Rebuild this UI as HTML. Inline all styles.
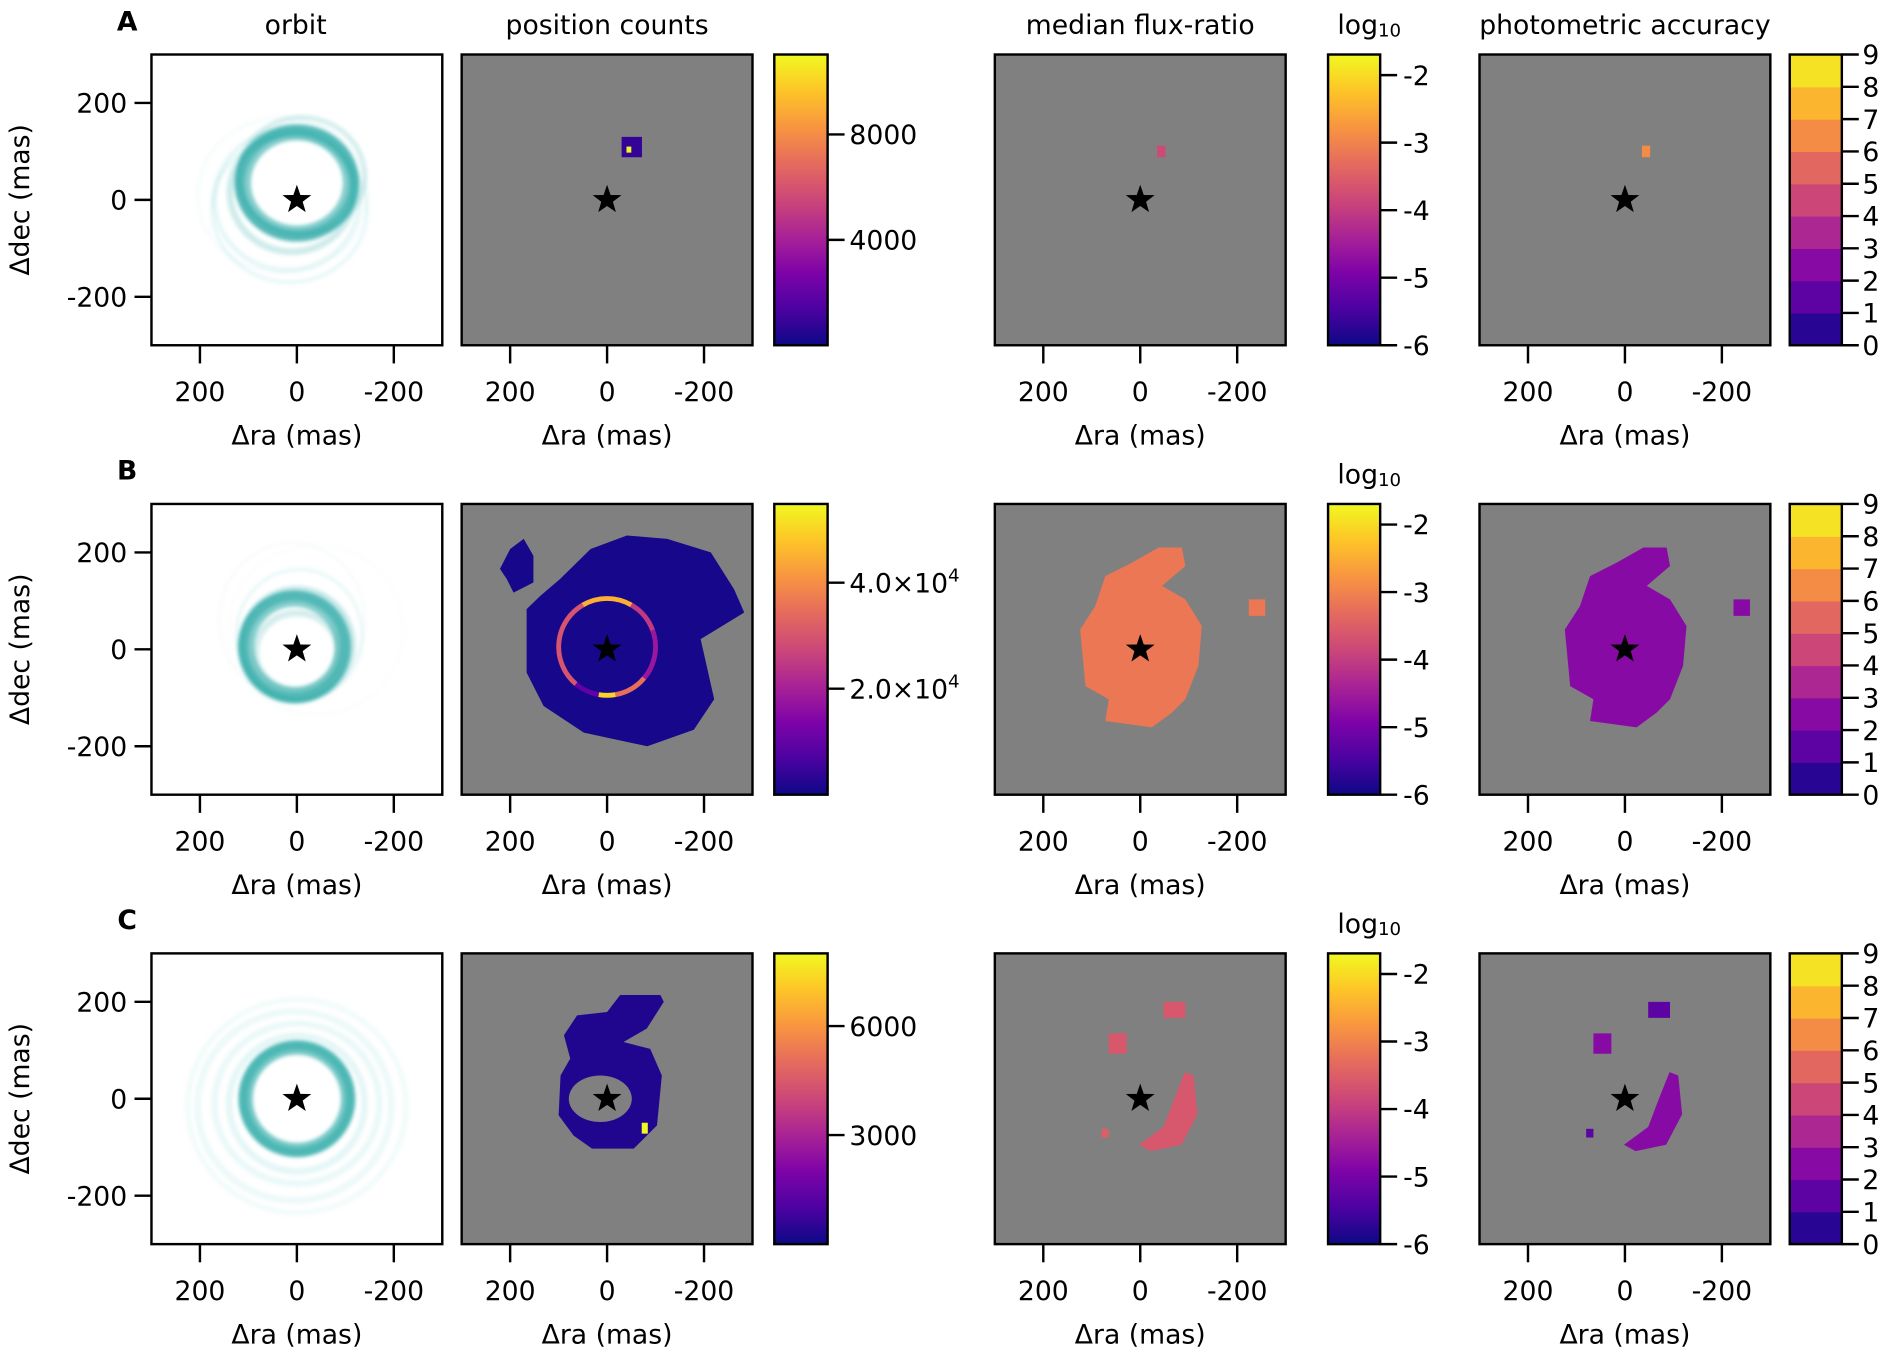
<!DOCTYPE html>
<html><head><meta charset="utf-8"><style>
html,body{margin:0;padding:0;background:#fff;}
svg{display:block;font-family:"DejaVu Sans","Liberation Sans",sans-serif;}
</style></head><body>
<svg id="fig" width="1900" height="1358" viewBox="0 0 1568 1121" preserveAspectRatio="none" xmlns="http://www.w3.org/2000/svg"></svg>
<script>
// ---- data ----
var rowLetters = ['A','B','C'];
var colTitles = ['orbit','position counts','median flux-ratio','photometric accuracy'];
var axisTicks = [200, 0, -200];
var countsMax = [11034, 54857, 8000];
var countsTickVals = [[4000, 8000],[20000, 40000],[3000, 6000]];
var countsTickLabels = [['4000','8000'],['2.0×10^4','4.0×10^4'],['3000','6000']];
var fluxMin = -6, fluxMax = -1.695;
var fluxTicks = [-6,-5,-4,-3,-2];
var photBins = [0,1,2,3,4,5,6,7,8,9];
// orbit bundles per row: [cx, cy, rx, ry, strokeWidth(mas), opacity]
var orbitsA = [[0,35,112,105,34,0.55],[0,35,118,108,20,0.5],[10,15,128,122,14,0.22],[20,0,150,145,10,0.1],[15,-20,160,150,8,0.09],[30,10,175,160,4,0.06],[-10,50,130,120,10,0.2]];
var orbitsB = [[5,5,100,100,34,0.55],[5,5,105,105,20,0.5],[0,10,115,115,12,0.25],[-5,30,130,135,6,0.1],[10,60,150,160,3,0.05],[-40,40,180,175,2,0.04],[0,-5,85,80,14,0.2]];
var orbitsC = [[0,0,106,106,30,0.6],[0,0,110,110,18,0.5],[0,-10,140,140,14,0.1],[0,-10,170,165,14,0.08],[5,-15,200,195,14,0.07],[0,-15,225,220,10,0.06]];
// counts regions: polygons [ra,dec]
var countsA = [[[-30,130],[-72,130],[-72,88],[-30,88]]];
var countsAval = [800];
var countsBmain = [[166,83],[166,-48],[131,-117],[48,-172],[-83,-200],[-179,-166],[-221,-103],[-193,21],[-283,76],[-262,124],[-214,200],[-124,228],[-41,235],[34,207],[97,145],[138,110]];
var countsBsmall = [[221,166],[200,207],[172,228],[152,193],[152,138],[193,117],[207,145]];
var ringB = [0, 5, 100]; // cx, cy, r (mas)
var ringBarcs = [[0,360,10000],[120,230,30000],[60,120,45000],[20,60,25000],[-40,20,18000],[-80,-40,35000],[-100,-80,50000]];
var countsCouter = [[96,48],[100,-34],[69,-76],[31,-103],[-55,-103],[-103,-55],[-113,48],[-89,103],[-34,117],[-82,145],[-117,200],[-110,214],[-27,214],[0,179],[62,172],[89,131],[76,83]];
var countsChole = [14, 0, 65, 48];
var countsCspot = [-79, -62, 8000];
// flux regions
var fluxA = [[[-35,112],[-52,112],[-52,88],[-35,88]]];
var fluxAval = [-3.8];
var fluxBmain = [[124,41],[113,-76],[65,-103],[72,-148],[-24,-161],[-65,-131],[-93,-103],[-120,-34],[-127,48],[-93,103],[-45,131],[-93,172],[-86,210],[-38,210],[17,179],[72,151],[93,89]];
var fluxBsmall = [[-224,103],[-258,103],[-258,69],[-224,69]];
var fluxBval = -3.15;
var fluxC = [[[-48,200],[-93,200],[-93,167],[-48,167]],[[65,135],[28,135],[28,93],[65,93]],[[-110,48],[-118,-32],[-85,-95],[-22,-108],[2,-95],[-48,-58],[-72,5],[-92,55]],[[80,-62],[65,-62],[65,-80],[80,-80]]];
var fluxCval = [-3.6,-3.6,-3.6,-3.5];
var photAval = [6.5];
var photBval = 2.5;
var photCval = [1.5,2.5,2.8,1.5];

// ---- helpers ----
var svg = document.getElementById('fig');
var NS = 'http://www.w3.org/2000/svg';
function el(tag, attrs, parent){var e=document.createElementNS(NS,tag);for(var k in attrs)e.setAttribute(k,attrs[k]);(parent||svg).appendChild(e);return e;}
var plasmaStops=[[13,8,135],[76,2,161],[126,3,168],[169,35,149],[204,71,120],[229,107,93],[248,149,64],[253,197,39],[240,249,33]];
function plasma(t){t=Math.max(0,Math.min(1,t));var s=t*8,i=Math.min(7,Math.floor(s)),f=s-i;var a=plasmaStops[i],b=plasmaStops[i+1];return 'rgb('+Math.round(a[0]+(b[0]-a[0])*f)+','+Math.round(a[1]+(b[1]-a[1])*f)+','+Math.round(a[2]+(b[2]-a[2])*f)+')';}
var rowY=[45,416,787], colX=[125,381,821,1221], cbX=[639,1096,1477];
var PS=240, K=PS/600, FS=22;
function sx(x0,ra){return x0+PS/2-ra*K;}
function sy(y0,dec){return y0+PS/2-dec*K;}
function poly(g,x0,y0,pts,fill,name){var d=pts.map(function(p){return sx(x0,p[0]).toFixed(1)+','+sy(y0,p[1]).toFixed(1);}).join(' ');var p=el('polygon',{points:d,fill:fill},g);return p;}
function star(g,x0,y0){var cx=sx(x0,0),cy=sy(y0,0),R=12.5,r=5;var pts=[];for(var i=0;i<10;i++){var a=-Math.PI/2+i*Math.PI/5,rr=i%2?r:R;pts.push((cx+rr*Math.cos(a)).toFixed(1)+','+(cy+rr*Math.sin(a)).toFixed(1));}var s=el('polygon',{points:pts.join(' '),fill:'#000'},g);}
function text(x,y,str,size,anchor,name,extra){var t=el('text',{x:x,y:y,'font-size':size,'text-anchor':anchor||'middle',fill:'#000'});for(var k in (extra||{}))t.setAttribute(k,extra[k]);t.textContent=str;return t;}
function frame(g,x0,y0,bg){var r=el('rect',{x:x0,y:y0,width:PS,height:PS,fill:bg},g);}
function border(g,x0,y0,w,h){var r=el('rect',{x:x0,y:y0,width:w,height:h,fill:'none',stroke:'#000','stroke-width':2},g);}
function xaxis(x0,y0){axisTicks.forEach(function(v){var x=sx(x0,v);var l=el('line',{x1:x,x2:x,y1:y0+PS,y2:y0+PS+15,stroke:'#000','stroke-width':2});text(x,y0+PS+46,String(v),FS,'middle','x-tick-label');});text(x0+PS/2,y0+PS+82,'Δra (mas)',FS,'middle','x-axis-title');}
function yaxis(x0,y0){axisTicks.forEach(function(v){var y=sy(y0,v);var l=el('line',{x1:x0-14,x2:x0,y1:y,y2:y,stroke:'#000','stroke-width':2});text(x0-20,y+8,String(v),FS,'end','y-tick-label');});var t=text(0,0,'Δdec (mas)',FS,'middle','y-axis-title');t.setAttribute('transform','translate(24,'+(y0+PS/2)+') rotate(-90)');}
function group(name){var g=el('g',{});return g;}

var defs=el('defs',{});var lg=el('linearGradient',{id:'plasma',x1:0,y1:1,x2:0,y2:0},defs);
for(var i=0;i<=16;i++){el('stop',{offset:(i/16),'stop-color':plasma(i/16)},lg);}
var blur=el('filter',{id:'soft',x:'-20%',y:'-20%',width:'140%',height:'140%'},defs);el('feGaussianBlur',{stdDeviation:1.5},blur);
var clipId=0;
function clip(x0,y0){var id='c'+(clipId++);var c=el('clipPath',{id:id},defs);el('rect',{x:x0,y:y0,width:PS,height:PS},c);return 'url(#'+id+')';}

var titleX=[244,501,941,1341];
colTitles.forEach(function(t,i){text(titleX[i],28,t,FS,'middle','column-title');});
rowLetters.forEach(function(L,r){text(105,rowY[r]-20,L,22,'middle','row-label',{'font-weight':'bold'});});

var orbitSets=[orbitsA,orbitsB,orbitsC];
for(var r=0;r<3;r++){
  var y0=rowY[r];
  var g=group('orbit-panel');var x0=colX[0];frame(g,x0,y0,'#fff');
  var gc=el('g',{'clip-path':clip(x0,y0)},g);var gs=el('g',{filter:'url(#soft)'},gc);
  orbitSets[r].forEach(function(o){var e=el('ellipse',{cx:sx(x0,o[0]),cy:sy(y0,o[1]),rx:o[2]*K,ry:o[3]*K,fill:'none',stroke:'#22a5a2','stroke-width':o[4]*K,'stroke-opacity':o[5]},gs);});
  star(g,x0,y0);border(g,x0,y0,PS,PS);xaxis(x0,y0);yaxis(x0,y0);
  g=group('position-counts-panel');x0=colX[1];frame(g,x0,y0,'#808080');
  var cm=countsMax[r];
  if(r===0){countsA.forEach(function(p,i){poly(g,x0,y0,p,plasma(countsAval[i]/cm),'counts-region');});
    var sp=el('rect',{x:sx(x0,-40),y:sy(y0,110),width:4,height:5,fill:plasma(1)},g);}
  if(r===1){poly(g,x0,y0,countsBmain,plasma(1000/cm),'counts-region');poly(g,x0,y0,countsBsmall,plasma(1000/cm),'counts-region');
    ringBarcs.forEach(function(a){var cx=sx(x0,ringB[0]),cy=sy(y0,ringB[1]),R=ringB[2]*K;var a1=a[0]*Math.PI/180,a2=a[1]*Math.PI/180;var large=(a[1]-a[0])>180?1:0;
      var d;if(a[1]-a[0]>=360){d='M'+(cx+R)+','+cy+' A'+R+','+R+' 0 1 0 '+(cx-R)+','+cy+' A'+R+','+R+' 0 1 0 '+(cx+R)+','+cy;}else{d='M'+(cx+R*Math.cos(a1)).toFixed(1)+','+(cy-R*Math.sin(a1)).toFixed(1)+' A'+R+','+R+' 0 '+large+' 0 '+(cx+R*Math.cos(a2)).toFixed(1)+','+(cy-R*Math.sin(a2)).toFixed(1);}
      var p=el('path',{d:d,fill:'none',stroke:plasma(a[2]/cm),'stroke-width':4},g);});}
  if(r===2){poly(g,x0,y0,countsCouter,plasma(300/cm),'counts-region');var h=el('ellipse',{cx:sx(x0,countsChole[0]),cy:sy(y0,countsChole[1]),rx:countsChole[2]*K,ry:countsChole[3]*K,fill:'#808080'},g);
    var s2=el('rect',{x:sx(x0,countsCspot[0])-3,y:sy(y0,countsCspot[1])-5,width:5,height:9,fill:plasma(countsCspot[2]/cm)},g);}
  star(g,x0,y0);border(g,x0,y0,PS,PS);xaxis(x0,y0);
  var cb=group('counts-colorbar');var cx0=cbX[0];
  var rr=el('rect',{x:cx0,y:y0,width:44,height:PS,fill:'url(#plasma)'},cb);
  border(cb,cx0,y0,44,PS);
  countsTickVals[r].forEach(function(v,i){var y=y0+PS-v/cm*PS;var l=el('line',{x1:cx0+44,x2:cx0+58,y1:y,y2:y,stroke:'#000','stroke-width':2},cb);
    var lab=countsTickLabels[r][i];var parts=lab.split('^');var t=text(cx0+62,y+8,parts[0],FS,'start','colorbar-tick-label');if(parts[1]){var ts=el('tspan',{'font-size':15,dy:-9},t);ts.textContent=parts[1];}});
  g=group('flux-ratio-panel');x0=colX[2];frame(g,x0,y0,'#808080');
  function fc(v){return plasma((v-fluxMin)/(fluxMax-fluxMin));}
  if(r===0)fluxA.forEach(function(p,i){poly(g,x0,y0,p,fc(fluxAval[i]),'flux-region');});
  if(r===1){poly(g,x0,y0,fluxBmain,fc(fluxBval),'flux-region');poly(g,x0,y0,fluxBsmall,fc(fluxBval),'flux-region');}
  if(r===2)fluxC.forEach(function(p,i){poly(g,x0,y0,p,fc(fluxCval[i]),'flux-region');});
  star(g,x0,y0);border(g,x0,y0,PS,PS);xaxis(x0,y0);
  cb=group('flux-colorbar');cx0=cbX[1];
  rr=el('rect',{x:cx0,y:y0,width:43,height:PS,fill:'url(#plasma)'},cb);
  border(cb,cx0,y0,43,PS);
  fluxTicks.forEach(function(v){var y=y0+PS-(v-fluxMin)/(fluxMax-fluxMin)*PS;var l=el('line',{x1:cx0+43,x2:cx0+57,y1:y,y2:y,stroke:'#000','stroke-width':2},cb);text(cx0+62,y+8,String(v),FS,'start','colorbar-tick-label');});
  var lt=text(cx0+34,y0-17,'log',FS,'middle','colorbar-title');var sub=el('tspan',{'font-size':15,dy:2},lt);sub.textContent='10';
  g=group('photometric-accuracy-panel');x0=colX[3];frame(g,x0,y0,'#808080');
  function pc(v){var b=Math.min(8,Math.floor(v));return plasma((b+0.5)/9);}
  if(r===0)fluxA.forEach(function(p,i){poly(g,x0,y0,p,pc(photAval[i]),'accuracy-region');});
  if(r===1){poly(g,x0,y0,fluxBmain,pc(photBval),'accuracy-region');poly(g,x0,y0,fluxBsmall,pc(photBval),'accuracy-region');}
  if(r===2)fluxC.forEach(function(p,i){poly(g,x0,y0,p,pc(photCval[i]),'accuracy-region');});
  star(g,x0,y0);border(g,x0,y0,PS,PS);xaxis(x0,y0);
  cb=group('accuracy-colorbar');cx0=cbX[2];
  for(var b=0;b<9;b++){var br=el('rect',{x:cx0,y:y0+PS-(b+1)/9*PS,width:43,height:PS/9+0.5,fill:plasma((b+0.5)/9)},cb);}
  border(cb,cx0,y0,43,PS);
  photBins.forEach(function(v){var y=y0+PS-v/9*PS;var l=el('line',{x1:cx0+43,x2:cx0+57,y1:y,y2:y,stroke:'#000','stroke-width':2},cb);text(cx0+60,y+8,String(v),FS,'start','colorbar-tick-label');});
}
</script>
</body></html>
